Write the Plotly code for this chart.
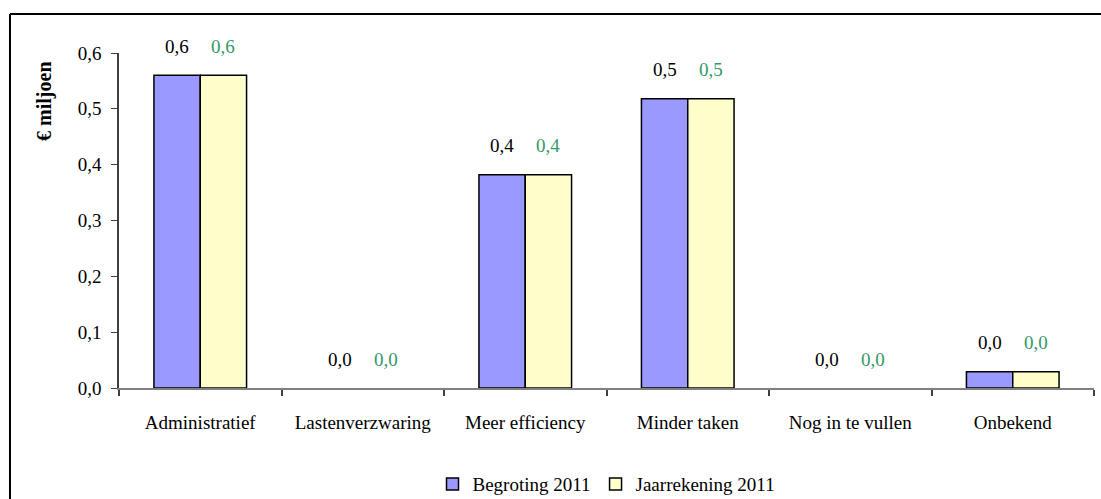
import plotly.graph_objects as go

categories = ["Administratief", "Lastenverzwaring", "Meer efficiency", "Minder taken", "Nog in te vullen", "Onbekend"]
begroting = [0.56, 0.0, 0.382, 0.518, 0.0, 0.029]
jaarrekening = [0.56, 0.0, 0.382, 0.518, 0.0, 0.029]
series_names = ["Begroting 2011", "Jaarrekening 2011"]
y_ticks = [0.0, 0.1, 0.2, 0.3, 0.4, 0.5, 0.6]

FONT = "Liberation Serif"
FS = 19
fig = go.Figure()
fig.add_trace(go.Bar(name=series_names[0], x=categories, y=begroting,
                     marker=dict(color="#9999FF",
                                 line=dict(color="black", width=[1.5 if v > 0 else 0 for v in begroting]))))
fig.add_trace(go.Bar(name=series_names[1], x=categories, y=jaarrekening,
                     marker=dict(color="#FFFFCC",
                                 line=dict(color="black", width=[1.5 if v > 0 else 0 for v in jaarrekening]))))

def fmt(v):
    return f"{v:.1f}".replace(".", ",")

for cat, b, j in zip(categories, begroting, jaarrekening):
    fig.add_annotation(x=cat, y=b, text=fmt(b), showarrow=False, xshift=-23, yshift=29,
                       yanchor="middle", font=dict(color="black", size=FS, family=FONT))
    fig.add_annotation(x=cat, y=j, text=fmt(j), showarrow=False, xshift=23, yshift=29,
                       yanchor="middle", font=dict(color="#339966", size=FS, family=FONT))

fig.add_annotation(xref="paper", yref="paper", x=-0.0759, y=0.857, text="<b>€ miljoen</b>",
                   textangle=-90, showarrow=False, xanchor="center", yanchor="middle",
                   font=dict(size=20, family=FONT, color="black"))

# outer frame
fig.add_shape(type="line", xref="paper", yref="paper", x0=-0.1118, x1=-0.1118, y0=1.1164, y1=-0.5,
              line=dict(color="black", width=2))
fig.add_shape(type="line", xref="paper", yref="paper", x0=-0.1118, x1=1.2, y0=1.1164, y1=1.1164,
              line=dict(color="black", width=2))

fig.update_layout(
    width=1101, height=499,
    margin=dict(l=119, r=7, t=53, b=111, autoexpand=False),
    paper_bgcolor="white", plot_bgcolor="white",
    separators=",.",
    barmode="group", bargap=0.43, bargroupgap=0,
    font=dict(family=FONT, size=FS, color="black"),
    showlegend=True,
    legend=dict(orientation="h", x=0.5, xanchor="center", y=-0.287, yanchor="middle",
                font=dict(size=FS, family=FONT), itemwidth=30, traceorder="normal"),
    xaxis=dict(showline=True, linecolor="#808080", linewidth=2, ticks="outside", tickson="boundaries",
               ticklen=6, tickcolor="#404040", tickwidth=1.5, showgrid=False, ticklabelstandoff=16,
               tickfont=dict(size=FS, family=FONT)),
    yaxis=dict(range=[0, 0.6], tickvals=y_ticks, tickformat=".1f", showline=True, linecolor="#404040",
               linewidth=1.5, ticks="outside", ticklen=6, tickcolor="#404040", showgrid=False,
               zeroline=False, ticklabelstandoff=6, tickfont=dict(size=FS, family=FONT)),
)

fig.write_html("out.html", config={"displayModeBar": False},
               post_script="document.body.style.margin='0';")
